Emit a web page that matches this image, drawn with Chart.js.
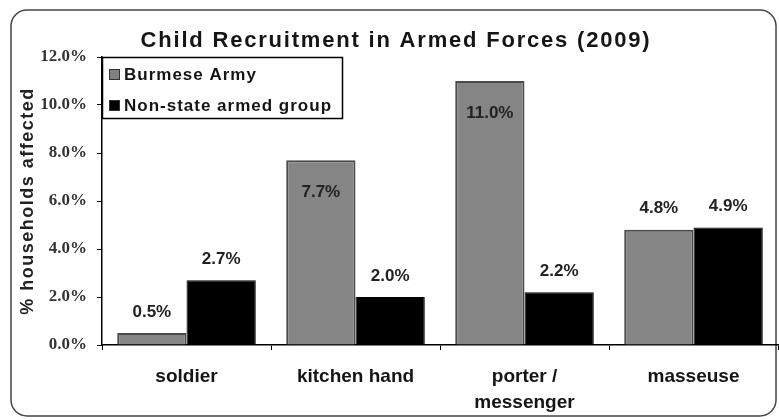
<!DOCTYPE html>
<html>
<head>
<meta charset="utf-8">
<script src="https://cdn.jsdelivr.net/npm/chart.js@4"></script>
<style>
  html, body { margin: 0; padding: 0; background: #fff; }
  #wrap { width: 779px; height: 420px; }
</style>
</head>
<body>
<div id="wrap"><canvas id="chart" width="779" height="420"></canvas></div>
<script>
const categories = ['soldier', 'kitchen hand', ['porter /', 'messenger'], 'masseuse'];
const burmeseArmy = [0.5, 7.7, 11.0, 4.8];
const nonStateGroup = [2.7, 2.0, 2.2, 4.9];
const seriesNames = ['Burmese Army', 'Non-state armed group'];
const yTicks = [0, 2, 4, 6, 8, 10, 12];

const FONT = '"Liberation Sans", Arial, sans-serif';
const SERIF = '"Liberation Serif", "Times New Roman", serif';

// frame, titles, legend box and value labels
const decor = {
  id: 'decor',
  beforeDraw(chart) {
    const c = chart.ctx;
    c.save();
    c.fillStyle = '#fff';
    c.fillRect(0, 0, chart.width, chart.height);
    c.strokeStyle = '#444';
    c.lineWidth = 1.5;
    c.beginPath();
    c.roundRect(11, 10, 765, 406, 16);
    c.stroke();
    c.restore();
  },
  afterDraw(chart) {
    const c = chart.ctx;
    const area = chart.chartArea;
    c.save();
    c.fillStyle = '#151515';
    c.textAlign = 'center';
    c.textBaseline = 'middle';
    c.font = 'bold 22px ' + FONT;
    c.letterSpacing = '1.8px';
    c.fillText('Child Recruitment in Armed Forces (2009)', 396, 41);

    // y axis title
    c.save();
    c.translate(28, (area.top + area.bottom) / 2);
    c.rotate(-Math.PI / 2);
    c.font = 'bold 18px ' + FONT;
    c.letterSpacing = '1.5px';
    c.fillStyle = '#222';
    c.fillText('% households affected', 0, 0);
    c.restore();

    // value labels
    c.letterSpacing = '0px';
    c.font = 'bold 17px ' + FONT;
    c.fillStyle = '#222';
    chart.data.datasets.forEach((ds, i) => {
      chart.getDatasetMeta(i).data.forEach((bar, j) => {
        const v = ds.data[j];
        const txt = v.toFixed(1) + '%';
        if (v > 6) c.fillText(txt, bar.x, bar.y + 32);
        else c.fillText(txt, bar.x, bar.y - 21);
      });
    });

    // legend
    const lx = area.left, ly = area.top;
    c.fillStyle = '#fff';
    c.fillRect(lx + 1, ly, 240, 62);
    c.strokeStyle = '#000';
    c.lineWidth = 1.5;
    c.strokeRect(lx + 0.5, ly + 0.5, 240, 61);
    c.font = 'bold 17px ' + FONT;
    c.letterSpacing = '1px';
    c.textAlign = 'left';
    const colors = ['#808080', '#000'];
    seriesNames.forEach((name, i) => {
      const y = ly + 18 + i * 31;
      c.fillStyle = colors[i];
      c.fillRect(lx + 7, y - 6, 11, 11);
      c.strokeStyle = '#333';
      c.lineWidth = 1;
      c.strokeRect(lx + 7.5, y - 5.5, 10, 10);
      c.fillStyle = '#151515';
      c.fillText(name, lx + 22, y);
    });
    c.restore();
  }
};

new Chart(document.getElementById('chart'), {
  type: 'bar',
  data: {
    labels: categories,
    datasets: [
      {
        label: seriesNames[0],
        data: burmeseArmy,
        backgroundColor: '#858585',
        borderColor: '#4a4a4a',
        borderWidth: 2
      },
      {
        label: seriesNames[1],
        data: nonStateGroup,
        backgroundColor: '#000',
        borderColor: '#000',
        borderWidth: 1
      }
    ]
  },
  options: {
    responsive: false,
    animation: false,
    layout: { padding: { left: 10, right: 1, top: 57, bottom: 8 } },
    plugins: {
      legend: { display: false },
      title: { display: false },
      tooltip: { enabled: false }
    },
    datasets: { bar: { categoryPercentage: 0.82, barPercentage: 1 } },
    scales: {
      x: {
        grid: { display: true, drawOnChartArea: false, offset: true, tickLength: 5, color: '#000' },
        border: { color: '#000', width: 1.5 },
        ticks: {
          color: '#151515',
          font: { family: FONT, size: 19, weight: 'bold', lineHeight: 1.35 },
          padding: 14,
          maxRotation: 0
        },
        afterFit(s) { s.height = 67; }
      },
      y: {
        min: 0,
        max: 12,
        afterBuildTicks(s) { s.ticks = yTicks.map(v => ({ value: v })); },
        grid: { display: true, drawOnChartArea: false, tickLength: 5, color: '#000' },
        border: { color: '#000', width: 1.5 },
        ticks: {
          color: '#333',
          font: { family: SERIF, size: 17, weight: 'bold' },
          padding: 10,
          callback: v => v.toFixed(1) + '%'
        },
        afterFit(s) { s.width = 92; }
      }
    }
  },
  plugins: [decor]
});
</script>
</body>
</html>
